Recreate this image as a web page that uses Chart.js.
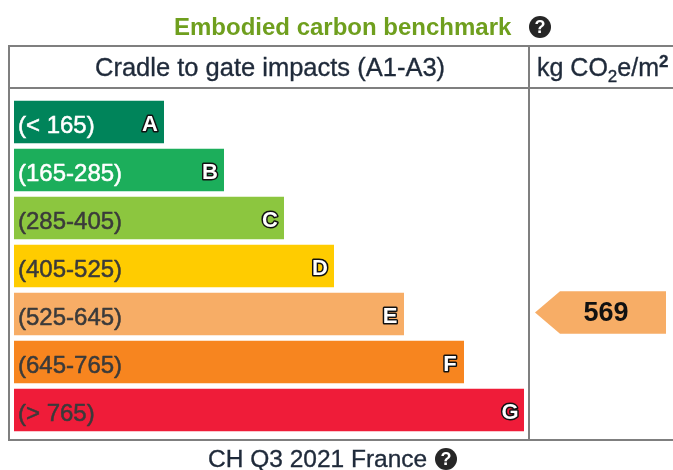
<!DOCTYPE html>
<html><head><meta charset="utf-8">
<script src="https://cdn.jsdelivr.net/npm/chart.js@4"></script>
<style>
html,body{margin:0;padding:0;background:#fff;width:673px;height:470px;overflow:hidden}
body{font-family:"Liberation Sans",Arial,sans-serif;position:relative}
#wrap{position:absolute;left:0;top:0;width:673px;height:470px}
.line{position:absolute;background:#7f7f7f}
.t{position:absolute;white-space:nowrap;line-height:1;-webkit-text-stroke:0.35px currentColor}
.help{position:absolute;width:22px;height:22px;border-radius:50%;background:#262626;color:#fff;font-weight:bold;font-size:18px;line-height:22px;text-align:center}
sub,sup{font-size:17px;line-height:0}
sup{font-weight:bold}
</style></head><body>
<div class="line" style="left:8px;top:45px;width:665px;height:2px"></div>
<div class="line" style="left:8px;top:87px;width:665px;height:2px"></div>
<div class="line" style="left:8px;top:439px;width:665px;height:2px"></div>
<div class="line" style="left:8px;top:45px;width:2px;height:396px"></div>
<div class="line" style="left:528px;top:45px;width:2px;height:396px"></div>
<div id="wrap"><canvas id="c" width="673" height="470"></canvas></div>
<div class="t" id="title" style="left:174px;top:15px;font-size:24px;font-weight:bold;color:#6f9f1e;-webkit-text-stroke:0">Embodied carbon benchmark</div>
<div class="help" style="left:529px;top:16px">?</div>
<div class="t" style="left:95px;top:55px;font-size:25.5px;color:#1f2a3a">Cradle to gate impacts (A1-A3)</div>
<div class="t" style="left:537px;top:55px;font-size:25px;color:#1f2a3a">kg CO<sub>2</sub>e/m<sup>2</sup></div>
<div class="t" style="left:208px;top:447px;font-size:24.5px;color:#1f2a3a">CH Q3 2021 France</div>
<div class="help" style="left:435px;top:448px">?</div>
<script>
const categories = ["(< 165)","(165-285)","(285-405)","(405-525)","(525-645)","(645-765)","(> 765)"];
const bandLetters = ["A","B","C","D","E","F","G"];
const barLengths = [150,210,270,320,390,450,510];
const barColors = ["#00845a","#1cae5b","#8cc63f","#ffcc00","#f7ad66","#f7851f","#ef1c39"];
const labelColors = ["#ffffff","#ffffff","#3a3a3a","#3a3a3a","#3a3a3a","#3a3a3a","#3a3a3a"];
const benchmarkValue = 569;
const benchmarkBand = "(525-645)";
const benchmarkSpan = [521,652];

const overlay = {
  id:"overlay",
  afterDatasetsDraw(chart){
    const ctx = chart.ctx;
    ctx.save();
    const area = chart.chartArea;
    chart.getDatasetMeta(0).data.forEach((bar,i)=>{
      // range label inside the bar
      ctx.font = '24px "Liberation Sans"';
      ctx.textAlign = "left";
      ctx.textBaseline = "middle";
      ctx.lineWidth = 0.5;
      ctx.strokeStyle = labelColors[i];
      ctx.fillStyle = labelColors[i];
      ctx.strokeText(categories[i], area.left+4, bar.y+4);
      ctx.fillText(categories[i], area.left+4, bar.y+4);
      // band letter, white with dark outline
      ctx.font = 'bold 22px "Liberation Sans"';
      ctx.textAlign = "center";
      ctx.lineJoin = "round";
      ctx.lineWidth = 3;
      ctx.strokeStyle = "#111";
      ctx.fillStyle = "#fff";
      ctx.strokeText(bandLetters[i], bar.x-14, bar.y+3);
      ctx.fillText(bandLetters[i], bar.x-14, bar.y+3);
    });
    // benchmark pointer arrow
    const idx = categories.indexOf(benchmarkBand);
    const b = chart.getDatasetMeta(1).data[idx];
    const top = b.y-b.height/2-1.5, bot = b.y+b.height/2-1.5, mid=(top+bot)/2;
    const left = Math.min(b.x,b.base), right = Math.max(b.x,b.base);
    ctx.fillStyle = barColors[idx];
    ctx.beginPath();
    ctx.moveTo(left,mid);
    ctx.lineTo(left+25,top);
    ctx.lineTo(right,top);
    ctx.lineTo(right,bot);
    ctx.lineTo(left+25,bot);
    ctx.closePath();
    ctx.fill();
    ctx.fillStyle = "#111";
    ctx.font = 'bold 27px "Liberation Sans"';
    ctx.textAlign = "center";
    ctx.textBaseline = "middle";
    ctx.fillText(String(benchmarkValue), 606, mid+1);
    ctx.restore();
  }
};

new Chart(document.getElementById("c"),{
  type:"bar",
  data:{labels:categories,datasets:[
    {label:"Band",data:barLengths,backgroundColor:barColors,categoryPercentage:1,barPercentage:0.885},
    {label:"Benchmark",data:categories.map(c=>c===benchmarkBand?benchmarkSpan:null),backgroundColor:"rgba(0,0,0,0)",categoryPercentage:1,barPercentage:0.885}
  ]},
  options:{
    indexAxis:"y",responsive:false,animation:false,
    layout:{padding:{left:14,right:0,top:98,bottom:36}},
    datasets:{bar:{grouped:false}},
    plugins:{legend:{display:false},tooltip:{enabled:false},title:{display:false}},
    scales:{
      x:{display:false,min:0,max:659},
      y:{
        afterFit(s){s.width=0;},
        grid:{display:false},border:{display:false},
        ticks:{display:false}
      }
    }
  },
  plugins:[overlay]
});
</script>
</body></html>
